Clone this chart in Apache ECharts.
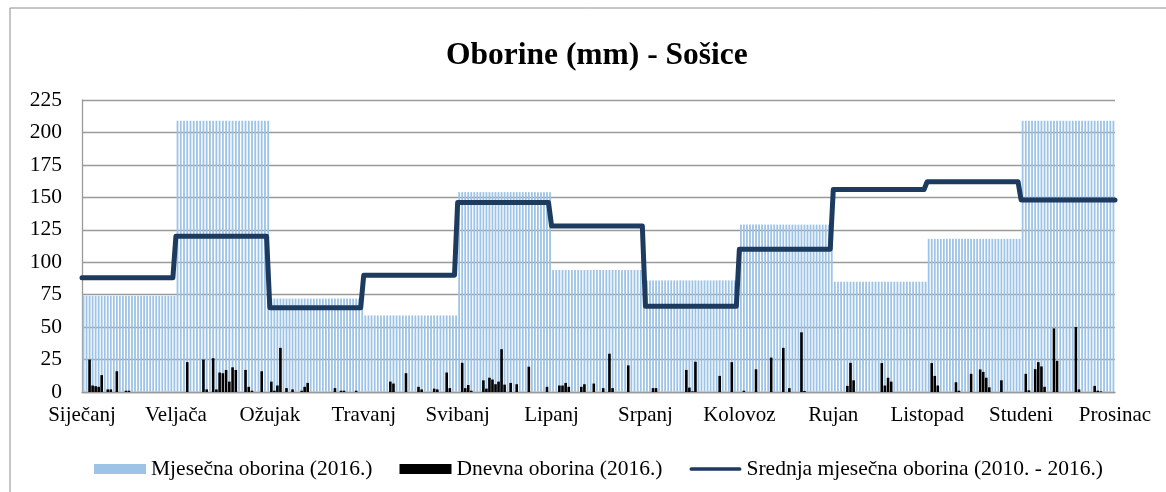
<!DOCTYPE html>
<html>
<head>
<meta charset="utf-8">
<title>Oborine (mm) - Sošice</title>
<script src="https://cdn.jsdelivr.net/npm/echarts@6/dist/echarts.min.js"></script>
<style>
  html, body { margin: 0; padding: 0; background: #fff; }
  #chart { width: 1166px; height: 492px; }
</style>
</head>
<body>
<div id="chart"></div>
<script>
// nazivi mjeseci (oznake x osi)
const months = ['Siječanj', 'Veljača', 'Ožujak', 'Travanj', 'Svibanj', 'Lipanj',
  'Srpanj', 'Kolovoz', 'Rujan', 'Listopad', 'Studeni', 'Prosinac']
const daysInMonth = [31, 29, 31, 30, 31, 30, 31, 31, 30, 31, 30]

// mjesečna oborina 2016. (mm)
const monthlyRain = [74, 209, 72, 59, 154, 94, 86, 129, 85, 118, 209]
// srednja mjesečna oborina 2010. - 2016. (mm)
const meanMonthlyRain = [88, 120, 65, 90, 146, 128, 66, 110, 156, 162, 148]
// dnevna oborina 2016. : [mjesec (0 = siječanj), dan, mm]
const dailyRain = [
  [0, 3, 25], [0, 4, 5], [0, 5, 4.5], [0, 6, 4], [0, 7, 13], [0, 9, 2], [0, 10, 2], [0, 12, 16], [0, 15, 1], [0, 16, 1],
  [1, 4, 23], [1, 9, 25], [1, 10, 2], [1, 12, 26], [1, 13, 2], [1, 14, 15], [1, 15, 14.5], [1, 16, 17], [1, 17, 8],
  [1, 18, 19], [1, 19, 17], [1, 22, 17], [1, 23, 4], [1, 24, 1], [1, 27, 16],
  [2, 1, 8], [2, 2, 1], [2, 3, 5], [2, 4, 34], [2, 6, 3], [2, 8, 2], [2, 11, 1], [2, 12, 4], [2, 13, 7], [2, 22, 3],
  [2, 24, 1], [2, 25, 1], [2, 29, 1],
  [3, 9, 8], [3, 10, 6.5], [3, 14, 14.5], [3, 18, 4], [3, 19, 2], [3, 23, 2.6], [3, 24, 2], [3, 27, 15], [3, 28, 3],
  [4, 2, 22.5], [4, 3, 3], [4, 4, 5.4], [4, 5, 1], [4, 9, 9], [4, 10, 2.6], [4, 11, 11], [4, 12, 9.6], [4, 13, 6],
  [4, 14, 8], [4, 15, 33], [4, 16, 5.7], [4, 18, 7], [4, 20, 6], [4, 24, 19.5], [4, 30, 4],
  [5, 3, 5], [5, 4, 5], [5, 5, 7], [5, 6, 4], [5, 10, 4], [5, 11, 6], [5, 14, 6.5], [5, 17, 3], [5, 19, 29.5],
  [5, 20, 3], [5, 25, 20.5],
  [6, 3, 3], [6, 4, 3], [6, 14, 17], [6, 15, 3.4], [6, 16, 0.5], [6, 17, 23.3], [6, 25, 12.4], [6, 29, 23],
  [7, 2, 1], [7, 6, 17.5], [7, 11, 26.5], [7, 15, 34], [7, 17, 3], [7, 21, 46], [7, 22, 0.8],
  [8, 5, 4.7], [8, 6, 22.5], [8, 7, 9], [8, 16, 22.3], [8, 17, 5], [8, 18, 11], [8, 19, 8],
  [9, 2, 22.3], [9, 3, 12.4], [9, 4, 5], [9, 10, 7.5], [9, 11, 1], [9, 15, 14], [9, 18, 17.4], [9, 19, 15.5],
  [9, 20, 11], [9, 21, 3.6], [9, 25, 9],
  [10, 2, 14], [10, 3, 1.3], [10, 5, 17.6], [10, 6, 23], [10, 7, 19.7], [10, 8, 4], [10, 11, 49], [10, 12, 24],
  [10, 18, 50], [10, 19, 2], [10, 24, 4.7], [10, 25, 1], [10, 26, 0.5]
]

const serif = "'Liberation Serif', 'Times New Roman', serif"
const lineColor = '#1d3a5f'

// x os je u mjesecima, dan se smjesta unutar svog mjeseca
const dayPos = (m, d) => m + (d - 0.5) / daysInMonth[m]

const monthlyData = []
monthlyRain.forEach((v, m) => {
  for (let d = 1; d <= daysInMonth[m]; d++) {
    monthlyData.push([dayPos(m, d), v])
  }
})
const dailyData = dailyRain.map(([m, d, v]) => [dayPos(m, d), v])
const meanData = []
meanMonthlyRain.forEach((v, m) => {
  meanData.push([m, v])
  meanData.push([m === meanMonthlyRain.length - 1 ? m + 1 : m + 1 - 1 / daysInMonth[m], v])
})

const xAxisBase = {
  type: 'value',
  min: 0,
  max: 11,
  interval: 1
}

const chart = echarts.init(document.getElementById('chart'))
chart.setOption({
  animation: false,
  title: {
    text: 'Oborine (mm) - Sošice',
    left: 441,
    top: 35,
    textStyle: { fontFamily: serif, fontSize: 31.5, fontWeight: 'bold', color: '#000' }
  },
  graphic: [{
    type: 'rect',
    shape: { x: 10, y: 8, width: 1200, height: 540 },
    style: { fill: 'none', stroke: '#8c8c8c', lineWidth: 1 },
    silent: true
  }],
  legend: {
    left: 89,
    top: 453,
    itemWidth: 52,
    itemHeight: 10,
    itemGap: 27,
    textStyle: { fontFamily: serif, fontSize: 21.5, color: '#000' },
    data: [
      { name: 'Mjesečna oborina (2016.)', icon: 'rect' },
      { name: 'Dnevna oborina (2016.)', icon: 'rect' },
      { name: 'Srednja mjesečna oborina (2010. - 2016.)', icon: 'path://M2,0 L54,0 A2,2 0 0 1 54,4 L2,4 A2,2 0 0 1 2,0 Z' }
    ]
  },
  grid: { left: 82, right: 51, top: 100, bottom: 100 },
  xAxis: [
    Object.assign({}, xAxisBase, {
      axisLine: { lineStyle: { color: '#9a9a9a', width: 1.3 } },
      axisTick: { show: false },
      splitLine: { show: false },
      axisLabel: {
        formatter: (v) => months[v],
        fontFamily: serif,
        fontSize: 21,
        color: '#000',
        margin: 13
      }
    }),
    Object.assign({}, xAxisBase, { show: false })
  ],
  yAxis: {
    type: 'value',
    min: 0,
    max: 225,
    interval: 25,
    axisLine: { show: true, lineStyle: { color: '#9a9a9a', width: 1.3 } },
    axisTick: { show: false },
    splitLine: { lineStyle: { color: '#9a9a9a', width: 1.3 } },
    axisLabel: { fontFamily: serif, fontSize: 21.5, color: '#000', margin: 20 }
  },
  series: [
    {
      name: 'Mjesečna oborina (2016.)',
      type: 'bar',
      xAxisIndex: 0,
      barWidth: 1.8,
      itemStyle: { color: '#9dc3e6' },
      data: monthlyData,
      z: 1
    },
    {
      name: 'Dnevna oborina (2016.)',
      type: 'bar',
      xAxisIndex: 1,
      barWidth: 2.6,
      itemStyle: { color: '#000' },
      data: dailyData,
      z: 3
    },
    {
      name: 'Srednja mjesečna oborina (2010. - 2016.)',
      type: 'line',
      xAxisIndex: 0,
      symbol: 'none',
      lineStyle: { color: lineColor, width: 5, cap: 'round', join: 'round' },
      itemStyle: { color: lineColor },
      data: meanData,
      z: 4
    }
  ]
})
</script>
</body>
</html>
